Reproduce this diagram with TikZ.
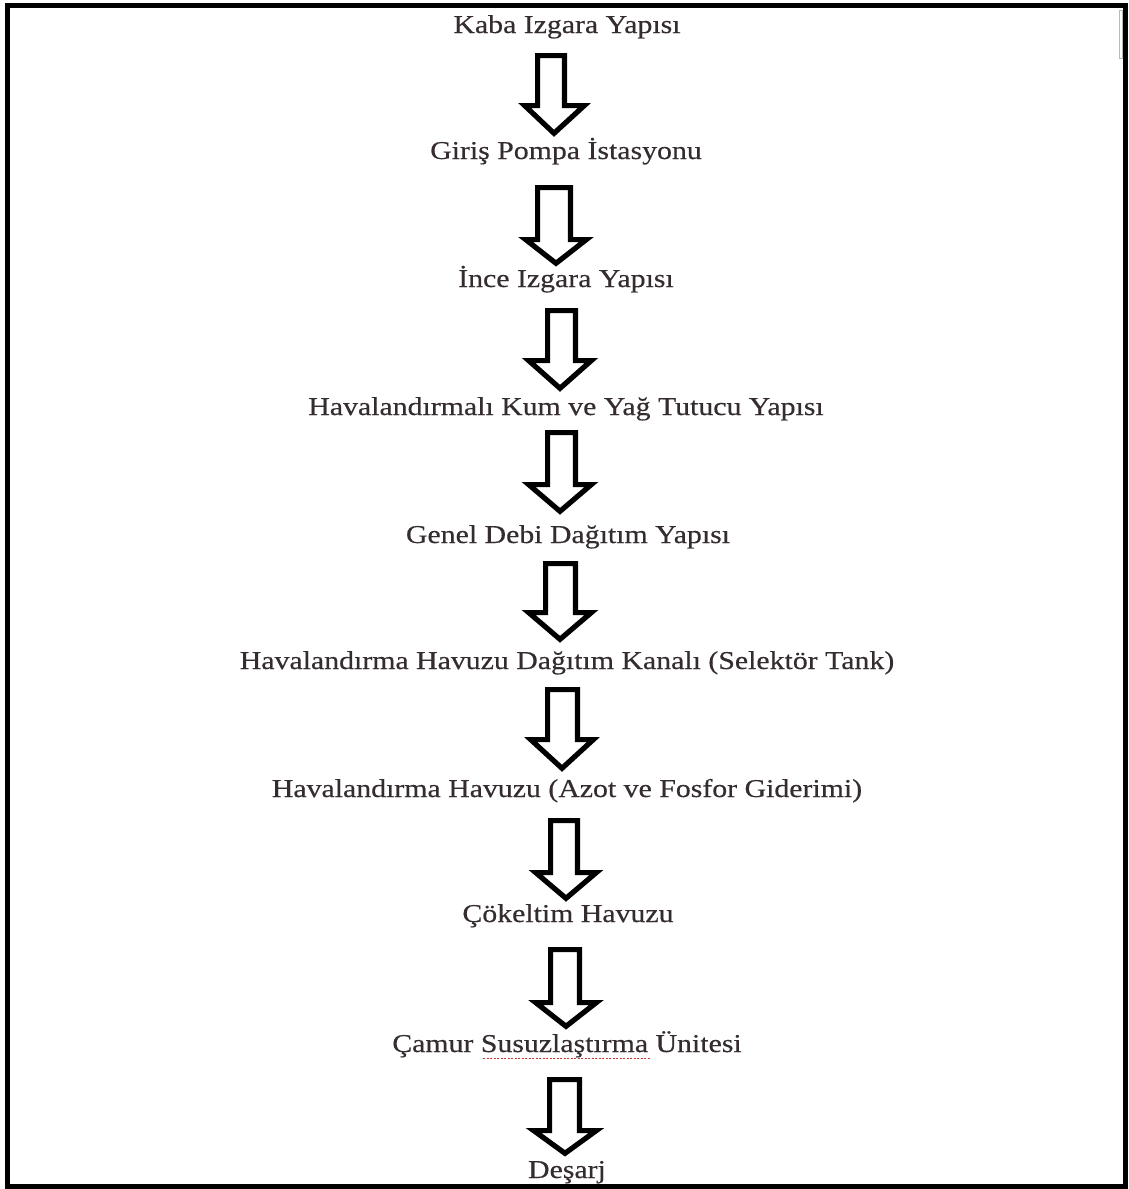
\documentclass[tikz,border=0pt]{standalone}
\usepackage{fontspec}
\newfontfamily\lbfont[FakeStretch=1.16,FakeBold=0.35]{Liberation Serif}
\definecolor{txtcol}{RGB}{52,44,46}
\tikzset{
  lbl/.style={anchor=base, inner sep=0pt, text=txtcol, font=\lbfont\fontsize{25.7}{30}\selectfont},
  blockarrow/.style={draw=black, fill=white, line width=5.2pt, line join=miter},
  frame/.style={draw=black, line width=5pt}
}
% #1 top, #2 shoulder, #3 tip, #4 shaft left, #5 shaft right, #6 head left, #7 head right, #8 tip x
\newcommand{\flowarr}[8]{%
  \draw[blockarrow] ({#4+2.6},{#1+2.6}) -- ({#5-2.6},{#1+2.6}) -- ({#5-2.6},{#2+2.6})
    -- ({#7-3.7},{#2+2.6}) -- ({#8},{#3-3.7}) -- ({#6+3.7},{#2+2.6})
    -- ({#4+2.6},{#2+2.6}) -- cycle;}
\begin{document}
\begin{tikzpicture}[x=1pt,y=-1pt]
\useasboundingbox (0,0) rectangle (1129,1189);
\fill[white] (0,0) rectangle (1129,1189);
\draw[frame] (7.5,5.5) rectangle (1125.5,1186.5);
\draw[gray!55, line width=0.8pt] (1119.5,10) rectangle (1122,58);

\node[lbl] (t1) at (567,33) {Kaba Izgara Yapısı};
\node[lbl] (t2) at (566,159) {Giriş Pompa İstasyonu};
\node[lbl] (t3) at (566,287) {İnce Izgara Yapısı};
\node[lbl] (t4) at (566,415) {Havalandırmalı Kum ve Yağ Tutucu Yapısı};
\node[lbl] (t5) at (568,543) {Genel Debi Dağıtım Yapısı};
\node[lbl] (t6) at (567,669) {Havalandırma Havuzu Dağıtım Kanalı (Selektör Tank)};
\node[lbl] (t7) at (567,797) {Havalandırma Havuzu (Azot ve Fosfor Giderimi)};
\node[lbl] (t8) at (568,922) {Çökeltim Havuzu};
\node[lbl] (t9) at (567,1052) {Çamur Susuzlaştırma Ünitesi};
\node[lbl] (t10) at (567,1178) {Deşarj};

\draw[red!55!gray, line width=0.9pt, dash pattern=on 2pt off 1.5pt] (483,1058) -- (650,1058);

\flowarr{53}{103}{137}{535}{567}{521}{588}{554}
\flowarr{185}{237}{267}{535}{573}{522}{590}{556}
\flowarr{308}{358}{392}{545}{578}{525}{595}{560}
\flowarr{430}{482}{515}{545}{578}{525}{595}{560}
\flowarr{561}{610}{643}{543}{578}{525}{595}{560}
\flowarr{687}{737}{772}{545}{580}{527}{597}{562}
\flowarr{818}{870}{902}{548}{580}{532}{600}{566}
\flowarr{947}{1000}{1030}{548}{582}{532}{600}{566}
\flowarr{1077}{1128}{1157}{547}{582}{530}{600}{565}
\end{tikzpicture}
\end{document}
